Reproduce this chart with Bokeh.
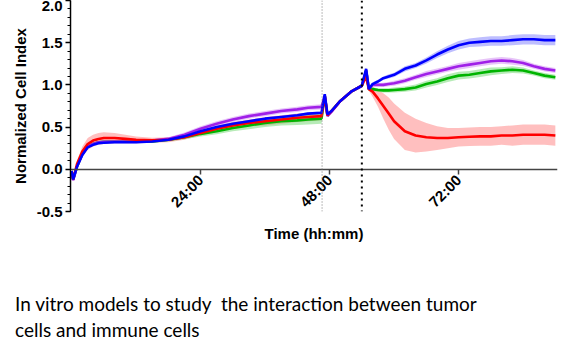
import math
from bokeh.plotting import figure
from bokeh.layouts import column
from bokeh.models import (Range1d, FixedTicker, SingleIntervalTicker, Span, Div,
                          NumeralTickFormatter, ColumnDataSource, LinearAxis)
from bokeh.embed import file_html
from bokeh.resources import INLINE

# ---------------- data ----------------
time_h = [0, 0.3, 1, 2, 3, 4, 5, 6, 8, 10, 12, 15, 18, 21, 24, 27, 30, 33, 36, 39,
          42, 44, 46.5, 47.1, 47.6, 48.5, 50, 52, 54, 54.8, 55.3, 56, 57, 58, 59, 60,
          62, 64, 66, 68, 70, 72, 74, 76, 78, 80, 82, 84, 86, 88, 90]

blue = [-0.02, -0.12, 0.03, 0.17, 0.26, 0.29, 0.31, 0.315, 0.32, 0.32, 0.32, 0.33, 0.35, 0.39,
        0.45, 0.50, 0.54, 0.57, 0.60, 0.62, 0.64, 0.66, 0.67, 0.89, 0.65, 0.70, 0.81, 0.92,
        0.99, 1.19, 0.95, 1.01, 1.04, 1.08, 1.10, 1.12, 1.19, 1.23, 1.29, 1.36, 1.42, 1.47,
        1.50, 1.51, 1.52, 1.52, 1.53, 1.54, 1.54, 1.53, 1.53]
blue_err = [0.0, 0.01, 0.01, 0.01, 0.01, 0.01, 0.01, 0.01, 0.01, 0.01, 0.01, 0.01, 0.01, 0.01,
            0.01, 0.01, 0.015, 0.015, 0.015, 0.015, 0.015, 0.015, 0.015, 0.01, 0.01, 0.01, 0.01,
            0.01, 0.01, 0.01, 0.01, 0.02, 0.02, 0.02, 0.025, 0.025, 0.03, 0.03, 0.035, 0.04,
            0.045, 0.05, 0.05, 0.055, 0.055, 0.055, 0.06, 0.06, 0.06, 0.06, 0.06]

purple = [-0.02, -0.13, 0.03, 0.18, 0.27, 0.30, 0.32, 0.325, 0.33, 0.33, 0.33, 0.34, 0.36, 0.41,
          0.48, 0.54, 0.59, 0.63, 0.66, 0.69, 0.71, 0.73, 0.74, 0.87, 0.63, 0.69, 0.81, 0.92,
          0.99, 1.17, 0.95, 1.0, 1.0, 1.0, 1.01, 1.02, 1.05, 1.09, 1.13, 1.16, 1.19, 1.22,
          1.24, 1.26, 1.28, 1.29, 1.28, 1.26, 1.22, 1.19, 1.17]
purple_err = [0.0, 0.01, 0.01, 0.01, 0.01, 0.015, 0.015, 0.015, 0.015, 0.015, 0.015, 0.02, 0.02,
              0.025, 0.03, 0.03, 0.03, 0.03, 0.03, 0.03, 0.03, 0.03, 0.03, 0.01, 0.01, 0.01, 0.01,
              0.01, 0.01, 0.01, 0.01, 0.02, 0.02, 0.025, 0.025, 0.03, 0.03, 0.03, 0.035, 0.035,
              0.035, 0.04, 0.04, 0.04, 0.04, 0.04, 0.04, 0.035, 0.03, 0.03, 0.03]

green = [-0.02, -0.12, 0.03, 0.18, 0.27, 0.30, 0.32, 0.325, 0.33, 0.33, 0.33, 0.33, 0.35, 0.38,
         0.42, 0.45, 0.49, 0.52, 0.55, 0.57, 0.58, 0.59, 0.60, 0.87, 0.64, 0.70, 0.81, 0.92,
         0.99, 1.17, 0.95, 0.95, 0.94, 0.935, 0.935, 0.94, 0.95, 0.97, 1.01, 1.04, 1.08, 1.11,
         1.12, 1.14, 1.16, 1.17, 1.18, 1.17, 1.14, 1.11, 1.09]
green_err = [0.0, 0.01, 0.01, 0.01, 0.01, 0.01, 0.01, 0.01, 0.01, 0.01, 0.01, 0.015, 0.02, 0.025,
             0.03, 0.035, 0.04, 0.045, 0.05, 0.05, 0.055, 0.06, 0.06, 0.01, 0.01, 0.01, 0.01,
             0.01, 0.01, 0.01, 0.01, 0.02, 0.02, 0.025, 0.025, 0.03, 0.03, 0.035, 0.04, 0.04,
             0.045, 0.045, 0.045, 0.045, 0.045, 0.04, 0.04, 0.035, 0.03, 0.03, 0.03]

red = [-0.02, -0.12, 0.06, 0.21, 0.30, 0.34, 0.36, 0.37, 0.37, 0.36, 0.35, 0.345, 0.35, 0.38,
       0.43, 0.48, 0.52, 0.55, 0.57, 0.59, 0.61, 0.62, 0.63, 0.87, 0.64, 0.70, 0.81, 0.92,
       0.99, 1.10, 0.95, 0.92, 0.84, 0.75, 0.66, 0.57, 0.45, 0.40, 0.38, 0.37, 0.37, 0.38,
       0.385, 0.39, 0.39, 0.40, 0.40, 0.41, 0.41, 0.41, 0.40]
red_err = [0.0, 0.02, 0.04, 0.06, 0.07, 0.07, 0.07, 0.07, 0.06, 0.05, 0.04, 0.03, 0.03, 0.03,
           0.03, 0.03, 0.04, 0.04, 0.05, 0.05, 0.05, 0.05, 0.05, 0.01, 0.01, 0.01, 0.01,
           0.01, 0.01, 0.01, 0.02, 0.06, 0.10, 0.15, 0.19, 0.21, 0.22, 0.20, 0.17, 0.14,
           0.12, 0.11, 0.11, 0.11, 0.11, 0.11, 0.12, 0.12, 0.12, 0.12, 0.12]

x_ticks = [24, 48, 72]
x_tick_labels = ["24:00", "48:00", "72:00"]
marker_lines = [46.6, 54.0]

caption_lines = ["In vitro models to study&nbsp; the interaction between tumor",
                 "cells and immune cells"]

# ---------------- figure ----------------
W = 569
LEFT, FRAME_H, BOTTOM = 70, 211, 59
PH = FRAME_H + BOTTOM
p = figure(width=W, height=PH, output_backend="svg", toolbar_location=None,
           x_range=Range1d(-0.2, 90.4), y_range=Range1d(-0.5, 2.0),
           min_border_left=LEFT, min_border_right=12, min_border_top=0,
           min_border_bottom=BOTTOM)
p.outline_line_color = None
p.xgrid.visible = False
p.ygrid.visible = False
p.background_fill_color = "white"
p.border_fill_color = "white"

series = [
    ("green", green, green_err, "#00b400", "#5fd35f"),
    ("purple", purple, purple_err, "#a020e8", "#c97cf0"),
    ("red", red, red_err, "#ff0000", "#ff7070"),
    ("blue", blue, blue_err, "#0000ff", "#6f6fff"),
]

band_order = ["red", "green", "purple", "blue"]
lookup = {s[0]: s for s in series}
for name in band_order:
    _, vals, errs, lc, bc = lookup[name]
    src = ColumnDataSource(dict(x=time_h,
                                lo=[v - e for v, e in zip(vals, errs)],
                                hi=[v + e for v, e in zip(vals, errs)]))
    p.varea(x="x", y1="lo", y2="hi", source=src, fill_color=bc, fill_alpha=0.45)

for name, vals, errs, lc, bc in series:
    p.line(time_h, vals, line_color=lc, line_width=2.6)

# vertical marker lines
p.add_layout(Span(location=marker_lines[0], dimension="height", line_color="#777777",
                  line_width=1, line_dash="1 2"))
p.add_layout(Span(location=marker_lines[1], dimension="height", line_color="black",
                  line_width=2, line_dash="2 4"))

# axes
p.xaxis.fixed_location = 0
p.xaxis.ticker = FixedTicker(ticks=x_ticks, minor_ticks=[])
p.xaxis.major_label_overrides = {t: l for t, l in zip(x_ticks, x_tick_labels)}
p.xaxis.major_label_orientation = math.pi / 4
p.xaxis.axis_line_color = "#444444"
p.xaxis.axis_line_width = 1.5
p.xaxis.major_tick_line_color = "#444444"
p.xaxis.major_tick_line_width = 1.5
p.xaxis.major_tick_in = 0
p.xaxis.major_tick_out = 5

title_axis = LinearAxis(ticker=FixedTicker(ticks=[]), axis_label="Time (hh:mm)",
                        axis_line_color=None, major_tick_line_color=None,
                        minor_tick_line_color=None, major_tick_out=0,
                        major_label_standoff=0, axis_label_standoff=13)
p.add_layout(title_axis, "below")

p.yaxis.ticker = SingleIntervalTicker(interval=0.5, num_minor_ticks=5)
p.yaxis.formatter = NumeralTickFormatter(format="0.0")
p.yaxis.axis_label = "Normalized Cell Index"
p.yaxis.axis_line_color = "black"
p.yaxis.axis_line_width = 1.5
p.yaxis.major_tick_line_color = "black"
p.yaxis.major_tick_line_width = 1.5
p.yaxis.minor_tick_line_color = "black"
p.yaxis.major_tick_in = 0
p.yaxis.major_tick_out = 5
p.yaxis.minor_tick_in = 0
p.yaxis.minor_tick_out = 3

for ax in (p.xaxis[0], title_axis, p.yaxis[0]):
    ax.major_label_text_font = "Liberation Sans"
    ax.major_label_text_font_style = "bold"
    ax.major_label_text_font_size = "15px"
    ax.major_label_text_color = "black"
    ax.axis_label_text_font = "Liberation Sans"
    ax.axis_label_text_font_style = "bold"
    ax.axis_label_text_font_size = "15px"
    ax.axis_label_text_color = "black"
p.yaxis.major_label_standoff = 3
p.yaxis.axis_label_standoff = 5
p.xaxis.major_label_standoff = 3

caption = Div(text="<br>".join(caption_lines), width=W, height=357 - PH, margin=0,
              styles={"font-family": "Lato", "font-size": "19px", "line-height": "26px",
                      "color": "black", "padding-left": "15px", "padding-top": "21px",
                      "white-space": "nowrap", "box-sizing": "border-box"})

layout = column(p, caption, spacing=0)
open("out.html", "w").write(file_html(layout, INLINE))
